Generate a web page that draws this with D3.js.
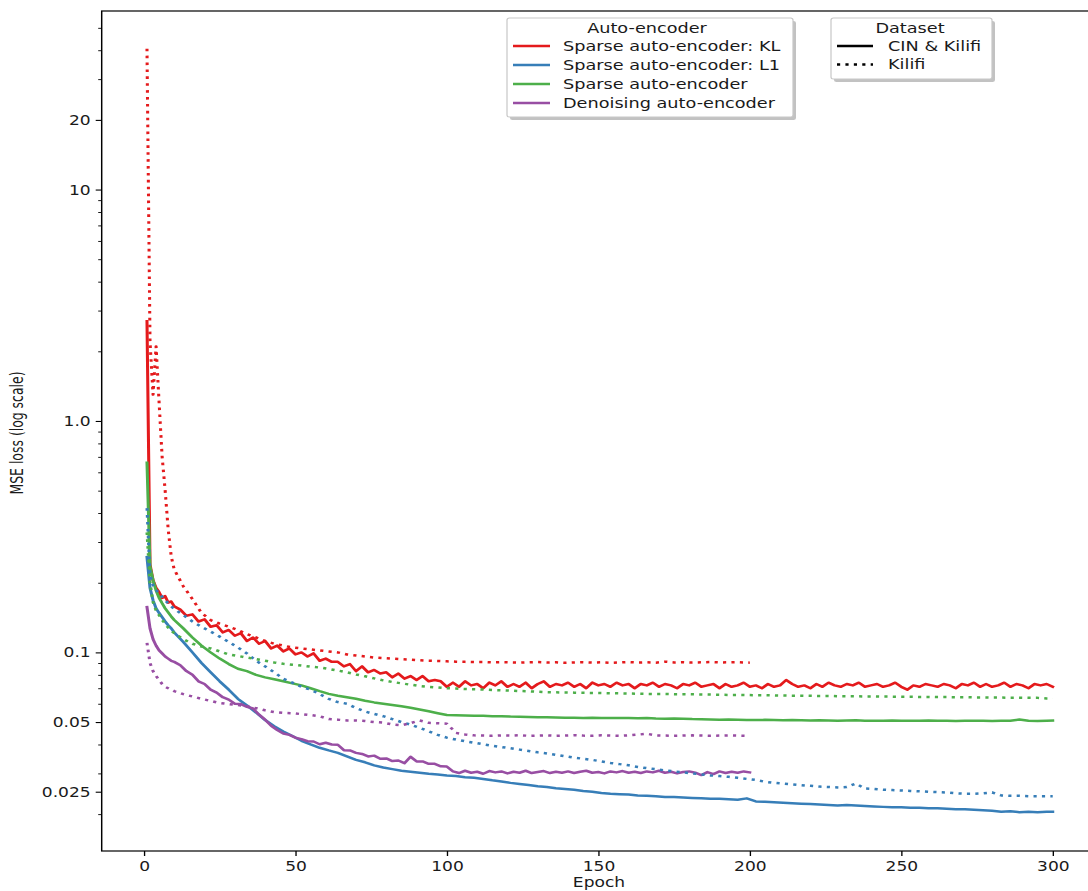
<!DOCTYPE html>
<html><head><meta charset="utf-8">
<script src="https://cdn.jsdelivr.net/npm/d3@7"></script>
<style>
body{margin:0;background:#fff}
svg{display:block}
text{font-family:"DejaVu Sans",sans-serif;fill:#1a1a1a}
</style>
</head><body><svg id="c"></svg>
<script>
// ---------- DATA ----------
const epochs300 = [1,2,3,4,5,6,7,8,9,10,
  13,16,19,22,25,28,31,34,37,40,
  43,46,49,52,55,58,61,64,67,70,
  73,76,79,82,85,88,91,94,97,100,
  103,106,109,112,115,118,121,124,127,130,
  133,136,139,142,145,148,151,154,157,160,
  163,166,169,172,175,178,181,184,187,190,
  193,196,199,202,205,208,211,214,217,220,
  223,226,229,232,235,238,241,244,247,250,
  253,256,259,262,265,268,271,274,277,280,
  283,286,289,292,295,298,300];
const epochs200 = [1,2,3,4,5,6,7,8,9,10,
  13,16,19,22,25,28,31,34,37,40,
  43,46,49,52,55,58,61,64,67,70,
  73,76,79,82,85,88,91,94,97,100,
  103,106,109,112,115,118,121,124,127,130,
  133,136,139,142,145,148,151,154,157,160,
  163,166,169,172,175,178,181,184,187,190,
  193,196,199,200];
const epochsEven300 = [1,2,3,4,5,6,7,8,9,10,
  12,14,16,18,20,22,24,26,28,30,32,34,36,38,40,42,44,46,48,50,
  52,54,56,58,60,62,64,66,68,70,72,74,76,78,80,82,84,86,88,90,
  92,94,96,98,100,102,104,106,108,110,112,114,116,118,120,122,124,126,128,130,
  132,134,136,138,140,142,144,146,148,150,152,154,156,158,160,162,164,166,168,170,
  172,174,176,178,180,182,184,186,188,190,192,194,196,198,200,202,204,206,208,210,
  212,214,216,218,220,222,224,226,228,230,232,234,236,238,240,242,244,246,248,250,
  252,254,256,258,260,262,264,266,268,270,272,274,276,278,280,282,284,286,288,290,
  292,294,296,298,300];
const epochsEven200 = [1,2,3,4,5,6,7,8,9,10,
  12,14,16,18,20,22,24,26,28,30,32,34,36,38,40,42,44,46,48,50,
  52,54,56,58,60,62,64,66,68,70,72,74,76,78,80,82,84,86,88,90,
  92,94,96,98,100,102,104,106,108,110,112,114,116,118,120,122,124,126,128,130,
  132,134,136,138,140,142,144,146,148,150,152,154,156,158,160,162,164,166,168,170,
  172,174,176,178,180,182,184,186,188,190,192,194,196,198,200];

// CIN & Kilifi (solid)
const klCinKilifi = [2.7,0.24,0.205,0.19,0.182,0.172,0.175,0.164,0.166,0.158,
  0.153,0.144,0.146,0.136,0.139,0.129,0.131,0.122,0.125,0.118,
  0.121,0.112,0.116,0.109,0.112,0.104,0.107,0.101,0.104,0.098,
  0.1,0.096,0.099,0.092,0.094,0.091,0.091,0.087,0.089,0.083,
  0.087,0.082,0.084,0.081,0.082,0.078,0.081,0.077,0.079,0.076,
  0.079,0.075,0.076,0.075,0.071,
  0.074,0.071,0.075,0.072,0.073,0.07,0.074,0.072,0.075,0.071,
  0.073,0.071,0.074,0.07,0.073,0.075,0.071,0.073,0.072,0.074,
  0.071,0.073,0.07,0.074,0.072,0.073,0.071,0.074,0.072,0.073,
  0.07,0.073,0.072,0.074,0.071,0.073,0.072,0.07,0.073,0.072,
  0.074,0.071,0.072,0.073,0.07,0.073,0.071,0.072,0.074,0.071,
  0.072,0.07,0.073,0.071,0.072,0.076,0.073,0.071,0.072,0.07,
  0.073,0.071,0.074,0.072,0.071,0.073,0.072,0.074,0.071,0.072,
  0.073,0.071,0.072,0.074,0.071,0.069,0.072,0.071,0.073,0.072,
  0.071,0.073,0.072,0.07,0.073,0.072,0.074,0.071,0.073,0.071,
  0.072,0.074,0.071,0.073,0.072,0.07,0.073,0.072,0.073,0.071];
const l1CinKilifi = [0.258,0.19,0.168,0.155,0.148,0.142,0.136,0.131,0.127,0.122,
  0.111,0.1,0.09,0.082,0.075,0.069,0.063,0.059,0.055,0.051,
  0.048,0.0455,0.0435,0.0415,0.04,0.0387,0.0377,0.0368,0.0355,0.0343,
  0.0335,0.0325,0.0318,0.0313,0.0308,0.0305,0.0302,0.0299,0.0297,0.0294,
  0.0292,0.0289,0.0287,0.0284,0.028,0.0277,0.0273,0.027,0.0267,0.0264,
  0.0262,0.0259,0.0257,0.0255,0.0252,0.025,0.0247,0.0245,0.0244,0.0243,
  0.0241,0.024,0.0239,0.0237,0.0237,0.0236,0.0235,0.0234,0.0233,0.0233,
  0.0232,0.0231,0.0234,0.0227,0.0226,0.0225,0.0224,0.0223,0.0222,0.0221,
  0.022,0.0219,0.0218,0.0219,0.0218,0.0217,0.0216,0.0215,0.0214,0.0214,
  0.0213,0.0213,0.0212,0.0212,0.0211,0.021,0.021,0.0209,0.0208,0.0207,
  0.0205,0.0206,0.0204,0.0205,0.0204,0.0205,0.0205];
const sparseCinKilifi = [0.66,0.235,0.205,0.185,0.172,0.163,0.155,0.149,0.143,0.138,
  0.127,0.116,0.107,0.1,0.094,0.089,0.085,0.083,0.08,0.078,
  0.0765,0.075,0.0735,0.072,0.07,0.068,0.0662,0.065,0.064,0.063,
  0.0618,0.0608,0.06,0.0592,0.0585,0.0576,0.0567,0.0557,0.0546,0.0536,
  0.0535,0.0534,0.0533,0.0532,0.053,0.053,0.0528,0.0527,0.0526,0.0525,
  0.0524,0.0523,0.0522,0.0522,0.0521,0.0522,0.0521,0.052,0.0521,0.052,
  0.0519,0.052,0.0518,0.0517,0.0518,0.0517,0.0515,0.0514,0.0513,0.0512,
  0.0513,0.0512,0.051,0.051,0.0511,0.051,0.0509,0.051,0.0509,0.0508,
  0.0509,0.0508,0.0507,0.0508,0.0509,0.0507,0.0506,0.0507,0.0508,0.0506,
  0.0507,0.0506,0.0508,0.0507,0.0506,0.0505,0.0506,0.0507,0.0506,0.0505,
  0.0506,0.0507,0.0513,0.0506,0.0505,0.0506,0.0507];
const denoisingCinKilifi = [0.157,0.127,0.114,0.107,0.102,0.099,0.096,0.094,0.092,0.091,
  0.088,0.083,0.08,0.075,0.073,0.069,0.067,0.064,0.0625,0.06,
  0.0598,0.0582,0.0572,0.0538,0.0512,0.0482,0.0462,0.0446,0.044,0.0428,
  0.0422,0.0413,0.0412,0.0401,0.0407,0.04,0.0399,0.0378,0.0377,0.0368,
  0.0364,0.0355,0.0358,0.0347,0.0348,0.0339,0.0341,0.0332,0.0354,0.0338,
  0.0338,0.033,0.033,0.0322,0.0321,
  0.0306,0.0301,0.0308,0.0302,0.0305,0.0299,0.0307,0.0303,0.0306,0.03,
  0.0305,0.0302,0.0308,0.0301,0.0304,0.0307,0.0301,0.0305,0.0302,0.0306,
  0.0301,0.0305,0.0308,0.0302,0.0304,0.03,0.0306,0.0303,0.0307,0.0302,
  0.0305,0.0301,0.0306,0.0303,0.0308,0.0302,0.0305,0.03,0.0304,0.0306,
  0.0302,0.0295,0.0304,0.0298,0.0306,0.0301,0.0305,0.0302,0.0306,0.0303];

// Kilifi (dotted)
const klKilifi = [40.6,2.2,1.3,2.1,1.2,0.7,0.5,0.34,0.26,0.228,
  0.193,0.17,0.148,0.138,0.133,0.129,0.125,0.12,0.116,0.112,
  0.109,0.107,0.105,0.104,0.103,0.102,0.101,0.1,0.098,0.097,
  0.096,0.095,0.0945,0.094,0.0935,0.093,0.0925,0.092,0.0918,0.0915,
  0.0912,0.091,0.0908,0.0908,0.0905,0.0907,0.0905,0.0903,0.0906,0.0908,
  0.0905,0.0906,0.0902,0.0905,0.0907,0.0904,0.0906,0.0902,0.0905,0.0908,
  0.0904,0.0906,0.0903,0.0912,0.0905,0.0907,0.0904,0.0906,0.0908,0.0905,
  0.0906,0.0907,0.0904,0.0903];
const l1Kilifi = [0.42,0.215,0.195,0.186,0.18,0.174,0.168,0.163,0.158,0.154,
  0.145,0.136,0.129,0.123,0.117,0.111,0.105,0.099,0.092,0.087,
  0.082,0.077,0.074,0.071,0.069,0.066,0.063,0.061,0.06,0.0575,
  0.0555,0.0542,0.053,0.0515,0.05,0.0487,0.0472,0.0456,0.044,0.0428,
  0.042,0.0413,0.0407,0.0401,0.0395,0.039,0.0385,0.038,0.0375,0.037,
  0.0366,0.0361,0.0356,0.0351,0.0347,0.0343,0.0338,0.0333,0.0329,0.0325,
  0.032,0.0316,0.0313,0.0309,0.0306,0.0303,0.03,0.0297,0.0294,0.0292,
  0.029,0.0287,0.0284,0.0281,0.0276,0.0273,0.0271,0.0269,0.0267,0.0265,
  0.0263,0.0262,0.0261,0.0262,0.0271,0.0258,0.0257,0.0255,0.0254,0.0253,
  0.0252,0.0251,0.025,0.0249,0.0248,0.0246,0.0245,0.0245,0.0246,0.0248,
  0.0241,0.024,0.024,0.0239,0.0239,0.0239,0.0239];
const sparseKilifi = [0.33,0.2,0.165,0.152,0.145,0.138,0.133,0.128,0.124,0.121,
  0.114,0.109,0.106,0.104,0.101,0.098,0.0965,0.095,0.0935,0.092,
  0.0905,0.0893,0.0885,0.0877,0.0868,0.086,0.0848,0.0835,0.082,0.0803,
  0.0788,0.0772,0.0757,0.0745,0.0735,0.0725,0.0716,0.071,0.0705,0.07,
  0.0698,0.0695,0.0693,0.0691,0.0688,0.0686,0.0684,0.0681,0.0679,0.0676,
  0.0673,0.0672,0.0671,0.067,0.0669,0.0668,0.0667,0.0666,0.0665,0.0664,
  0.0663,0.0662,0.0661,0.0661,0.066,0.066,0.0659,0.0658,0.0657,0.0656,
  0.0655,0.0655,0.0654,0.0653,0.0653,0.0652,0.0651,0.065,0.065,0.0649,
  0.0648,0.0648,0.0647,0.0646,0.0646,0.0645,0.0645,0.0644,0.0644,0.0643,
  0.0643,0.0642,0.0642,0.0641,0.0641,0.064,0.064,0.0639,0.0639,0.0638,
  0.0638,0.0637,0.0637,0.0636,0.0636,0.0632,0.0632];
const denoisingKilifi = [0.11,0.09,0.083,0.079,0.076,0.073,0.071,0.07,0.069,0.068,
  0.066,0.0645,0.063,0.0617,0.0604,0.0598,0.0592,0.0585,0.0574,0.0562,
  0.0552,0.0548,0.0546,0.0541,0.0536,0.053,0.0515,0.0512,0.0508,0.0508,
  0.0505,0.05,0.0497,0.0488,0.0484,0.0495,0.0508,0.0496,0.0494,0.0492,
  0.0449,0.0442,0.0438,0.0437,0.0436,0.0438,0.0437,0.0439,0.0436,0.0437,
  0.0438,0.0436,0.0437,0.0439,0.0437,0.0436,0.0438,0.0437,0.0436,0.0438,
  0.0441,0.0445,0.0438,0.0437,0.0436,0.0437,0.0438,0.0437,0.0436,0.0437,
  0.0438,0.0437,0.0436,0.0437];

const encoderNames = ["Sparse auto-encoder: KL","Sparse auto-encoder: L1","Sparse auto-encoder","Denoising auto-encoder"];
const encoderColors = ["#e41a1c","#377eb8","#4daf4a","#984ea3"];
const datasetNames = ["CIN & Kilifi","Kilifi"];
const xTickValues = [0,50,100,150,200,250,300];
const yTickValues = [20,10,1,0.1,0.05,0.025];
const yTickLabels = ["20","10","1.0","0.1","0.05","0.025"];
const yMinorValues = [0.02,0.03,0.04,0.06,0.07,0.08,0.09,0.2,0.3,0.4,0.5,0.6,0.7,0.8,0.9,2,3,4,5,6,7,8,9,30,40,50];

// ---------- LAYOUT ----------
(function () {
const SX = 1.22;            // horizontal stretch of the reference picture
const W = 1088, H = 891, VW = W / SX;
const px = v => v / SX;     // picture x -> viewBox x

const svg = d3.select('#c').attr('width', W).attr('height', H)
  .attr('viewBox', `0 0 ${VW} ${H}`).attr('preserveAspectRatio', 'none');
svg.append('rect').attr('width', VW).attr('height', H).attr('fill', '#fff');

const pL = px(101.7), pR = px(1098), pT = 11, pB = 851;
const x = d3.scaleLinear().domain([-13.95, 314.95]).range([pL, pR]);
const y = d3.scaleLog().domain([0.01386, 59.1]).range([pB, pT]);

svg.append('clipPath').attr('id', 'clip').append('rect')
  .attr('x', pL).attr('y', pT).attr('width', pR - pL).attr('height', pB - pT);

const series = [
  {e: epochsEven300, v: klCinKilifi, c: 0, d: 0},
  {e: epochs300, v: l1CinKilifi, c: 1, d: 0},
  {e: epochs300, v: sparseCinKilifi, c: 2, d: 0},
  {e: epochsEven200, v: denoisingCinKilifi, c: 3, d: 0},
  {e: epochs200, v: klKilifi, c: 0, d: 1},
  {e: epochs300, v: l1Kilifi, c: 1, d: 1},
  {e: epochs300, v: sparseKilifi, c: 2, d: 1},
  {e: epochs200, v: denoisingKilifi, c: 3, d: 1}
];
series.forEach((s, i) => { if (s.e.length !== s.v.length) throw new Error('series ' + i + ' length ' + s.v.length + ' vs ' + s.e.length); });

const LW = 2.5, DASH = '2.6,4.3';
const line = d3.line().x(d => x(d[0])).y(d => y(d[1]));
const plot = svg.append('g').attr('clip-path', 'url(#clip)');
series.forEach(s => {
  plot.append('path')
    .datum(s.e.map((e, i) => [e, s.v[i]]))
    .attr('d', line)
    .attr('fill', 'none')
    .attr('stroke', encoderColors[s.c])
    .attr('stroke-width', LW)
    .attr('stroke-linejoin', 'round')
    .attr('stroke-linecap', s.d ? 'butt' : 'square')
    .attr('stroke-dasharray', s.d ? DASH : null);
});

// frame
svg.append('rect').attr('x', pL).attr('y', pT).attr('width', pR - pL).attr('height', pB - pT)
  .attr('fill', 'none').attr('stroke', '#000').attr('stroke-width', 1.2);

// axes
const FS = 14, LFS = 14.5;
const xAxis = d3.axisBottom(x).tickValues(xTickValues).tickSize(5).tickPadding(5).tickFormat(d3.format('d'));
const gx = svg.append('g').attr('transform', `translate(0,${pB})`).call(xAxis);
gx.select('.domain').remove();
gx.selectAll('line').attr('stroke', '#000').attr('stroke-width', 1.1);
gx.selectAll('text').attr('font-size', FS).attr('font-family', 'DejaVu Sans').attr('fill', '#1a1a1a');

const yAxis = d3.axisLeft(y).tickValues(yTickValues).tickSize(px(6)).tickPadding(px(5))
  .tickFormat((d, i) => yTickLabels[i]);
const gy = svg.append('g').attr('transform', `translate(${pL},0)`).call(yAxis);
gy.select('.domain').remove();
gy.selectAll('line').attr('stroke', '#000').attr('stroke-width', 1.1);
gy.selectAll('text').attr('font-size', FS).attr('font-family', 'DejaVu Sans').attr('fill', '#1a1a1a');

const yMinor = d3.axisLeft(y).tickValues(yMinorValues).tickSize(px(3.5)).tickFormat('');
const gym = svg.append('g').attr('transform', `translate(${pL},0)`).call(yMinor);
gym.select('.domain').remove();
gym.selectAll('line').attr('stroke', '#000').attr('stroke-width', 0.9);

// axis labels
svg.append('text').attr('x', px(599)).attr('y', 887).attr('text-anchor', 'middle')
  .attr('font-size', FS).text('Epoch');
svg.append('text').attr('transform', `translate(${px(23)},433) rotate(-90)`)
  .attr('text-anchor', 'middle').attr('font-size', 14)
  .attr('textLength', 123).attr('lengthAdjust', 'spacingAndGlyphs')
  .text('MSE loss (log scale)');

// legends
function legendBox(x0, x1, y0, y1) {
  svg.append('rect').attr('x', px(x0 + 3)).attr('y', y0 + 3).attr('width', px(x1 - x0)).attr('height', y1 - y0)
    .attr('rx', 2).attr('fill', '#9a9a9a').attr('opacity', 0.6);
  svg.append('rect').attr('x', px(x0)).attr('y', y0).attr('width', px(x1 - x0)).attr('height', y1 - y0)
    .attr('rx', 2).attr('fill', '#fff').attr('stroke', '#c8c8c8').attr('stroke-width', 1);
}
legendBox(507, 793, 18, 117);
svg.append('text').attr('x', px(647)).attr('y', 33).attr('text-anchor', 'middle').attr('font-size', LFS).text('Auto-encoder');
encoderNames.forEach((n, i) => {
  const yy = 46 + i * 19;
  svg.append('line').attr('x1', px(513)).attr('x2', px(550)).attr('y1', yy).attr('y2', yy)
    .attr('stroke', encoderColors[i]).attr('stroke-width', LW);
  svg.append('text').attr('x', px(563)).attr('y', yy + 5).attr('font-size', LFS).text(n);
});
legendBox(831, 992, 18, 79);
svg.append('text').attr('x', px(910)).attr('y', 33).attr('text-anchor', 'middle').attr('font-size', LFS).text('Dataset');
datasetNames.forEach((n, i) => {
  const yy = 46 + i * 18.5;
  svg.append('line').attr('x1', px(837)).attr('x2', px(873)).attr('y1', yy).attr('y2', yy)
    .attr('stroke', '#000').attr('stroke-width', LW).attr('stroke-dasharray', i ? DASH : null);
  svg.append('text').attr('x', px(888)).attr('y', yy + 5).attr('font-size', LFS).text(n);
});
})();
</script>
</body></html>
